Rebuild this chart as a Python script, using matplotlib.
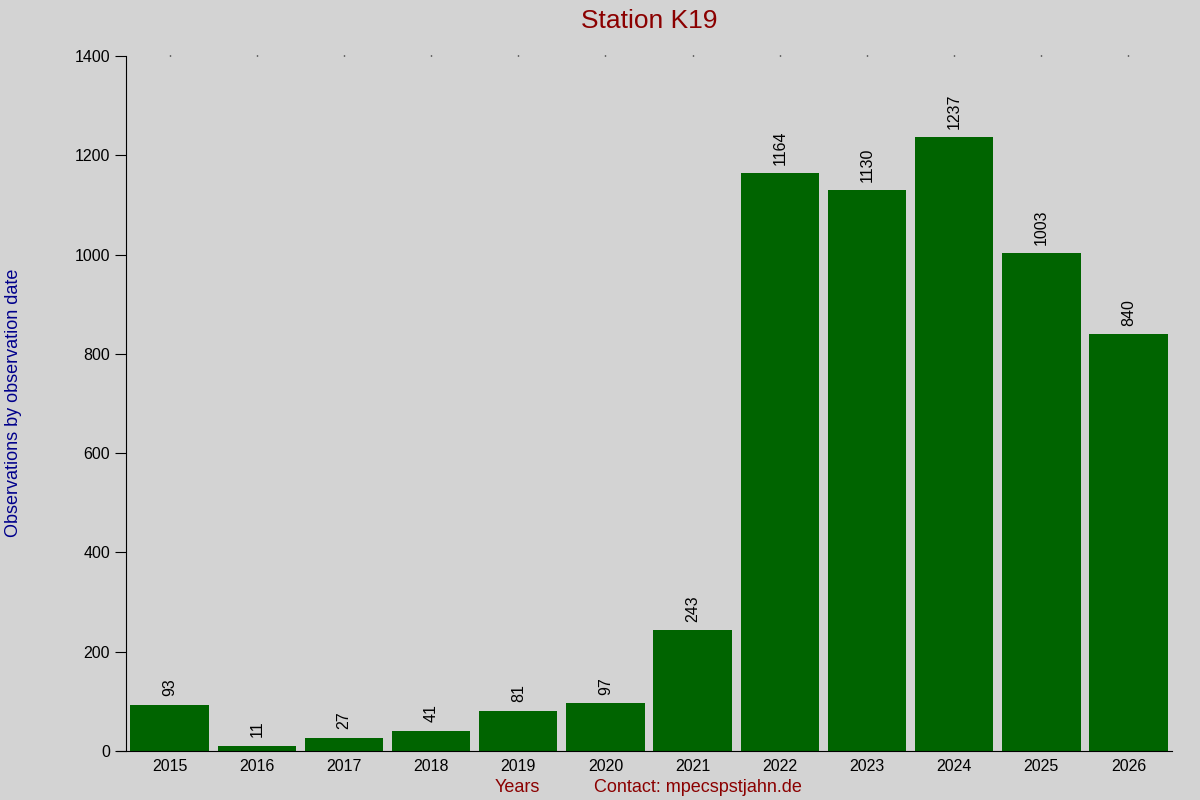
import matplotlib
matplotlib.use("Agg")
import matplotlib.pyplot as plt

years = ["2015", "2016", "2017", "2018", "2019", "2020", "2021", "2022", "2023", "2024", "2025", "2026"]
counts = [93, 11, 27, 41, 81, 97, 243, 1164, 1130, 1237, 1003, 840]
yticks = [0, 200, 400, 600, 800, 1000, 1200, 1400]

plt.rcParams['font.family'] = ['Liberation Sans', 'DejaVu Sans']
bg = '#d3d3d3'
fig = plt.figure(figsize=(12, 8), dpi=100, facecolor=bg)
ax = fig.add_axes([0.105, 0.06125, 0.8717, 0.86875], facecolor=bg)
x = list(range(len(years)))
ax.bar(x, counts, width=0.9, color='#006400')
for xi, v in zip(x, counts):
    ax.annotate(str(v), (xi, v), xytext=(0, 6), textcoords='offset points',
                rotation=90, ha='center', va='bottom', fontsize=11.5, color='black')
ax.set_xlim(-0.5, 11.5)
ax.set_ylim(0, 1400)
ax.set_yticks(yticks)
ax.set_xticks(x)
ax.set_xticklabels(years)
ax.tick_params(axis='both', labelsize=11.5, colors='black')
ax.tick_params(axis='y', length=8, direction='out')
ax.tick_params(axis='x', which='major', top=True, bottom=False, length=1, width=1, pad=5)
for s in ['top', 'right']:
    ax.spines[s].set_visible(False)
ax.spines['bottom'].set_bounds(-0.6, 11.5)
ax.set_title('Station K19', color='#8b0000', fontsize=19, pad=20)
fig.text(0.011, 0.496, 'Observations by observation date', color='#00008b', fontsize=13,
         rotation=90, ha='center', va='center')
fig.text(0.431, 0.01, 'Years', color='#8b0000', fontsize=13, ha='center')
fig.text(0.582, 0.01, 'Contact: mpecspstjahn.de', color='#8b0000', fontsize=13, ha='center')
fig.savefig('out.png', dpi=100, facecolor=bg)
